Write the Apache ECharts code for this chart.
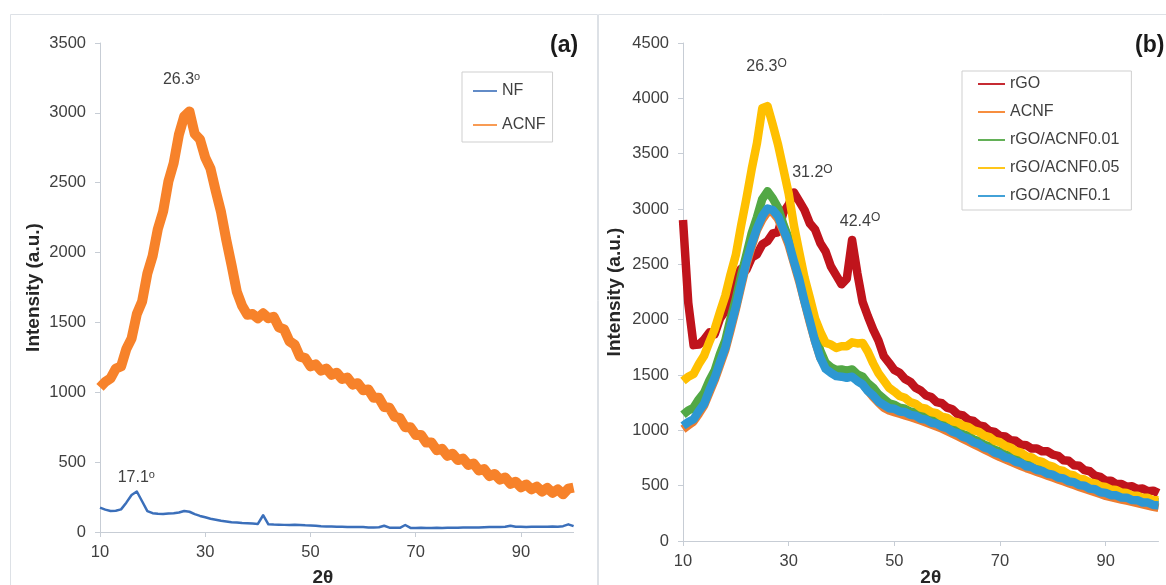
<!DOCTYPE html>
<html>
<head>
<meta charset="utf-8">
<script src="https://cdn.jsdelivr.net/npm/echarts@6/dist/echarts.min.js"></script>
<style>
html,body{margin:0;padding:0;background:#fff;}
#c{width:1166px;height:585px;}
</style>
</head>
<body>
<div id="c"></div>
<script>
// 2θ positions (degrees), shared by all series
var twoTheta = [10,11,12,13,14,15,16,17,18,19,20,21,22,23,24,25,26,27,28,29,30,31,32,33,34,35,36,37,38,39,40,41,42,43,44,45,46,47,48,49,50,51,52,53,54,55,56,57,58,59,60,61,62,63,64,65,66,67,68,69,70,71,72,73,74,75,76,77,78,79,80,81,82,83,84,85,86,87,88,89,90,91,92,93,94,95,96,97,98,99,100];

// Panel (a)
var nfA = [175,160,150,152,162,210,265,290,220,150,135,130,128,132,135,140,150,145,128,115,105,95,88,80,75,70,68,64,62,60,58,120,55,53,52,51,50,52,50,48,47,45,42,40,40,38,37,36,35,36,35,33,32,34,45,31,30,30,50,29,28,30,28,29,30,29,30,31,30,32,32,33,33,34,35,35,36,37,45,37,38,36,37,38,37,38,40,38,42,55,42];
var acnfA = [1035,1075,1100,1170,1185,1310,1385,1560,1650,1850,1975,2170,2295,2510,2640,2845,2975,3010,2850,2810,2680,2600,2440,2290,2090,1910,1720,1620,1555,1560,1530,1565,1530,1540,1465,1450,1365,1340,1255,1245,1185,1200,1155,1170,1125,1140,1095,1105,1055,1065,1015,1020,960,960,895,890,825,815,750,750,695,695,640,640,585,595,545,560,515,525,480,490,440,450,400,415,375,390,345,360,320,340,305,325,290,315,280,305,270,310,318];

// Panel (b)
var rGO = [2900,2150,1770,1775,1820,1885,1870,2010,2080,2270,2390,2460,2450,2560,2590,2680,2710,2780,2790,2970,3040,3150,3070,2990,2870,2815,2690,2615,2480,2400,2320,2370,2720,2420,2160,2030,1910,1810,1670,1610,1545,1520,1465,1440,1385,1360,1315,1300,1255,1245,1205,1190,1145,1135,1095,1085,1045,1035,995,985,950,945,910,905,870,865,835,835,810,810,780,770,730,725,685,680,640,630,590,580,545,545,515,515,490,495,470,475,450,455,432];
var acnfB = [1010,1045,1080,1150,1225,1340,1455,1590,1725,1905,2095,2300,2500,2660,2810,2905,2975,2970,2910,2800,2675,2510,2345,2160,1975,1805,1655,1575,1535,1520,1510,1505,1500,1465,1420,1360,1300,1250,1205,1180,1165,1150,1135,1120,1105,1088,1070,1052,1034,1015,993,970,946,923,899,875,851,828,804,781,758,738,718,698,678,658,641,624,607,590,573,556,539,522,505,488,472,456,440,424,408,397,386,375,364,353,342,331,320,309,300];
var rgoAcnf001 = [1140,1180,1205,1280,1340,1450,1540,1690,1810,2010,2185,2400,2585,2780,2925,3090,3160,3095,3010,2860,2735,2555,2395,2215,2055,1875,1720,1610,1570,1545,1550,1540,1550,1505,1485,1425,1385,1325,1285,1245,1230,1205,1195,1170,1163,1135,1125,1095,1085,1055,1045,1012,998,965,951,917,903,870,856,823,809,779,768,738,727,697,690,663,657,630,623,596,589,562,555,528,521,495,488,461,454,434,434,413,413,393,393,373,373,353,350];
var rgoAcnf005 = [1445,1485,1510,1600,1675,1800,1915,2070,2215,2410,2585,2850,3095,3360,3595,3910,3930,3760,3580,3360,3140,2850,2610,2380,2200,2010,1890,1790,1775,1745,1760,1760,1795,1785,1790,1710,1605,1515,1450,1385,1350,1310,1295,1255,1240,1205,1195,1165,1155,1123,1112,1082,1072,1042,1032,1001,987,953,939,905,893,860,845,812,798,765,755,725,715,685,673,643,633,602,592,562,555,528,521,495,488,465,461,438,434,410,410,390,390,370,368];
var rgoAcnf01 = [1040,1075,1100,1175,1240,1365,1475,1615,1745,1935,2115,2325,2520,2685,2825,2935,3005,2990,2935,2815,2700,2525,2365,2165,1990,1805,1655,1555,1520,1490,1485,1475,1485,1445,1415,1355,1315,1260,1230,1200,1195,1170,1165,1140,1133,1105,1097,1069,1061,1033,1020,987,973,940,926,892,878,845,831,798,785,755,745,715,705,675,668,641,634,607,600,573,566,539,532,505,499,473,467,441,435,414,413,392,391,370,369,348,347,326,322];

// Tick settings
var yTicksA = {min:0, max:3500, interval:500};
var yTicksB = {min:0, max:4500, interval:500};

function pairs(arr){ return twoTheta.map(function(x,i){ return [x, arr[i]]; }); }

var FONT = 'Liberation Sans, Arial, sans-serif';
var AXC = '#c7cdd5';
var LBL = '#404040';

function note(text, sup, coord, supSize){
  return {
    coord: coord, symbol:'rect', symbolSize:1,
    itemStyle:{color:'rgba(0,0,0,0)'},
    label:{show:true, position:'inside', formatter: text + '{s|' + sup + '}',
      color:LBL, fontFamily:FONT, fontSize:16,
      rich:{s:{fontSize:supSize, color:LBL, fontFamily:FONT, verticalAlign:'top', padding:[0,0,6,0]}}}
  };
}

function xAx(idx, nameGap, pad){
  return {
    gridIndex: idx, type:'value', min:10, max:100, interval:20,
    name:'2θ', nameLocation:'middle', nameGap:nameGap, nameMoveOverlap:false,
    nameTextStyle:{fontFamily:FONT, fontSize:19, fontWeight:'bold', color:'#262626', padding:pad},
    axisLine:{show:true, lineStyle:{color:AXC, width:1}},
    axisTick:{show:true, length:5, lineStyle:{color:AXC}},
    axisLabel:{color:LBL, fontFamily:FONT, fontSize:16.5, margin:12, showMaxLabel:false},
    splitLine:{show:false}
  };
}
function yAx(idx, t, nameGap){
  return {
    gridIndex: idx, type:'value', min:t.min, max:t.max, interval:t.interval,
    name:'Intensity (a.u.)', nameLocation:'middle', nameGap:nameGap, nameMoveOverlap:false,
    nameTextStyle:{fontFamily:FONT, fontSize:19, fontWeight:'bold', color:'#262626'},
    axisLine:{show:true, lineStyle:{color:AXC, width:1}},
    axisTick:{show:true, length:5, lineStyle:{color:AXC}},
    axisLabel:{color:LBL, fontFamily:FONT, fontSize:16.5, margin:14, formatter:function(v){return String(v);}},
    splitLine:{show:false}
  };
}
function ser(name, arr, color, width, xi){
  return {
    name:name, type:'line', xAxisIndex:xi, yAxisIndex:xi, data:pairs(arr),
    symbol:'none', showSymbol:false, smooth:false,
    lineStyle:{color:color, width:width, join:'round'},
    itemStyle:{color:color},
    emphasis:{disabled:true}, silent:true
  };
}

var sNF = ser('NF', nfA, '#3b6fba', 2.5, 0);
sNF.markPoint = {silent:true, data:[note('17.1','o',[16.9,386],11)]};
var sACNFa = ser('ACNF', acnfA, '#f7822a', 10, 0);
sACNFa.markPoint = {silent:true, data:[note('26.3','o',[25.5,3235],11)]};

var sRGO = ser('rGO', rGO, '#c0141c', 8.5, 1);
sRGO.markPoint = {silent:true, data:[note('31.2','O',[34.5,3329],12), note('42.4','O',[43.5,2890],12)]};
var sACNFb = ser('ACNF', acnfB, '#ed7d31', 8.5, 1);
var s001 = ser('rGO/ACNF0.01', rgoAcnf001, '#52a845', 8.5, 1);
var s005 = ser('rGO/ACNF0.05', rgoAcnf005, '#ffc000', 8.5, 1);
s005.markPoint = {silent:true, data:[note('26.3','O',[25.8,4288],12)]};
var s01 = ser('rGO/ACNF0.1', rgoAcnf01, '#2d97d3', 8.5, 1);

var legIcon = 'path://M0,0H30V2H0Z';

var option = {
  animation:false,
  backgroundColor:'#ffffff',
  grid:[
    {left:100, top:43, width:473.6, height:489, outerBoundsMode:'none', containLabel:false},
    {left:683, top:43, width:475.5, height:498, outerBoundsMode:'none', containLabel:false}
  ],
  xAxis:[xAx(0, 36, [0,28,0,0]), xAx(1, 27, [0,0,0,20])],
  yAxis:[yAx(0, yTicksA, 57), yAx(1, yTicksB, 59)],
  legend:[
    {data:['NF','ACNF'], left:462, top:72, orient:'vertical', icon:legIcon,
     itemWidth:24, itemHeight:2, itemGap:18, padding:[11,7,9,11],
     borderColor:'#cfcfcf', borderWidth:1, backgroundColor:'#fff', selectedMode:false,
     textStyle:{fontFamily:FONT, fontSize:16, color:LBL}},
    {data:['rGO','ACNF','rGO/ACNF0.01','rGO/ACNF0.05','rGO/ACNF0.1'], left:962, top:71, orient:'vertical', icon:legIcon,
     itemWidth:27, itemHeight:2, itemGap:12, padding:[5,12,6,16],
     borderColor:'#cfcfcf', borderWidth:1, backgroundColor:'#fff', selectedMode:false,
     textStyle:{fontFamily:FONT, fontSize:16, color:LBL}}
  ],
  graphic:[
    {type:'rect', shape:{x:10.5, y:14.5, width:587, height:600}, style:{fill:'none', stroke:'#dde1e6', lineWidth:1}, silent:true, z:-1},
    {type:'rect', shape:{x:598.5, y:14.5, width:600, height:600}, style:{fill:'none', stroke:'#dde1e6', lineWidth:1}, silent:true, z:-1},
    {type:'text', left:550, top:34, style:{text:'(a)', font:'bold 23px Liberation Sans, Arial, sans-serif', fill:'#1a1a1a'}},
    {type:'text', left:1135, top:34, style:{text:'(b)', font:'bold 23px Liberation Sans, Arial, sans-serif', fill:'#1a1a1a'}}
  ],
  series:[sNF, sACNFa, sRGO, sACNFb, s001, s005, s01]
};

var chart = echarts.init(document.getElementById('c'), null, {renderer:'canvas'});
chart.setOption(option);
</script>
</body>
</html>
